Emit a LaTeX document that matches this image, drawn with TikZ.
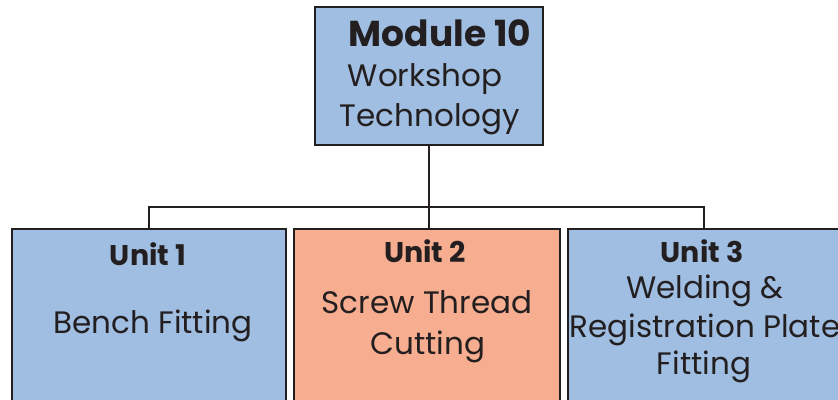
\documentclass[tikz,border=0pt]{standalone}
\usepackage{fontspec}
\setmainfont{Poppins}
\usetikzlibrary{positioning}

\definecolor{unitblue}{RGB}{160,190,225}
\definecolor{unitorange}{RGB}{247,173,143}
\definecolor{inkline}{RGB}{35,31,32}

\tikzset{
    box/.style={draw=inkline, line width=2pt, inner sep=0pt},
    title/.style={anchor=base, font=\fontsize{28.5}{32}\selectfont\bfseries, text=inkline},
    body/.style={anchor=base, font=\fontsize{31}{36}\selectfont, text=inkline},
    link/.style={draw=inkline, line width=1.8pt}
}

\begin{document}
\begin{tikzpicture}[x=1pt,y=1pt]
    \useasboundingbox (0,0) rectangle (838,399);
    \clip (0,0) rectangle (838,399);
    % module box on top
    \node[box, fill=unitblue, minimum width=228pt, minimum height=138pt] (mod) at (429,323) {};
        \node[title, font=\fontsize{36}{38}\selectfont\bfseries] (modtitle) at (440,352) {Module 10};
        \node[body] (modline1) at (425,312) {Workshop};
        \node[body] (modline2) at (430,272) {Technology};
    % the three units, cut off at the bottom
    \node[box, fill=unitblue, minimum width=274pt, minimum height=200pt, anchor=north] (u1) at (149,171) {};
        \node[title] (u1title) at (148,133) {Unit 1};
        \node[body] (u1line1) at (153,65) {Bench Fitting};
    \node[box, fill=unitorange, minimum width=266pt, minimum height=200pt, anchor=north] (u2) at (427,171) {};
        \node[title] (u2title) at (425,136) {Unit 2};
        \node[body] (u2line1) at (427,85) {Screw Thread};
        \node[body] (u2line2) at (428,45) {Cutting};
    \node[box, fill=unitblue, minimum width=272pt, minimum height=200pt, anchor=north] (u3) at (704,171) {};
        \node[title] (u3title) at (702,136) {Unit 3};
        \node[body] (u3line1) at (705,100) {Welding \&};
        \node[body] (u3line2) at (705,61) {Registration Plate};
        \node[body] (u3line3) at (704,24) {Fitting};
    % connectors
    \draw[link] (mod.south) -- ++(0,-61) coordinate (hub);
    \draw[link] (u1.north) |- (hub) -| (u3.north);
    \draw[link] (hub) -- (hub |- u2.north);
\end{tikzpicture}
\end{document}
